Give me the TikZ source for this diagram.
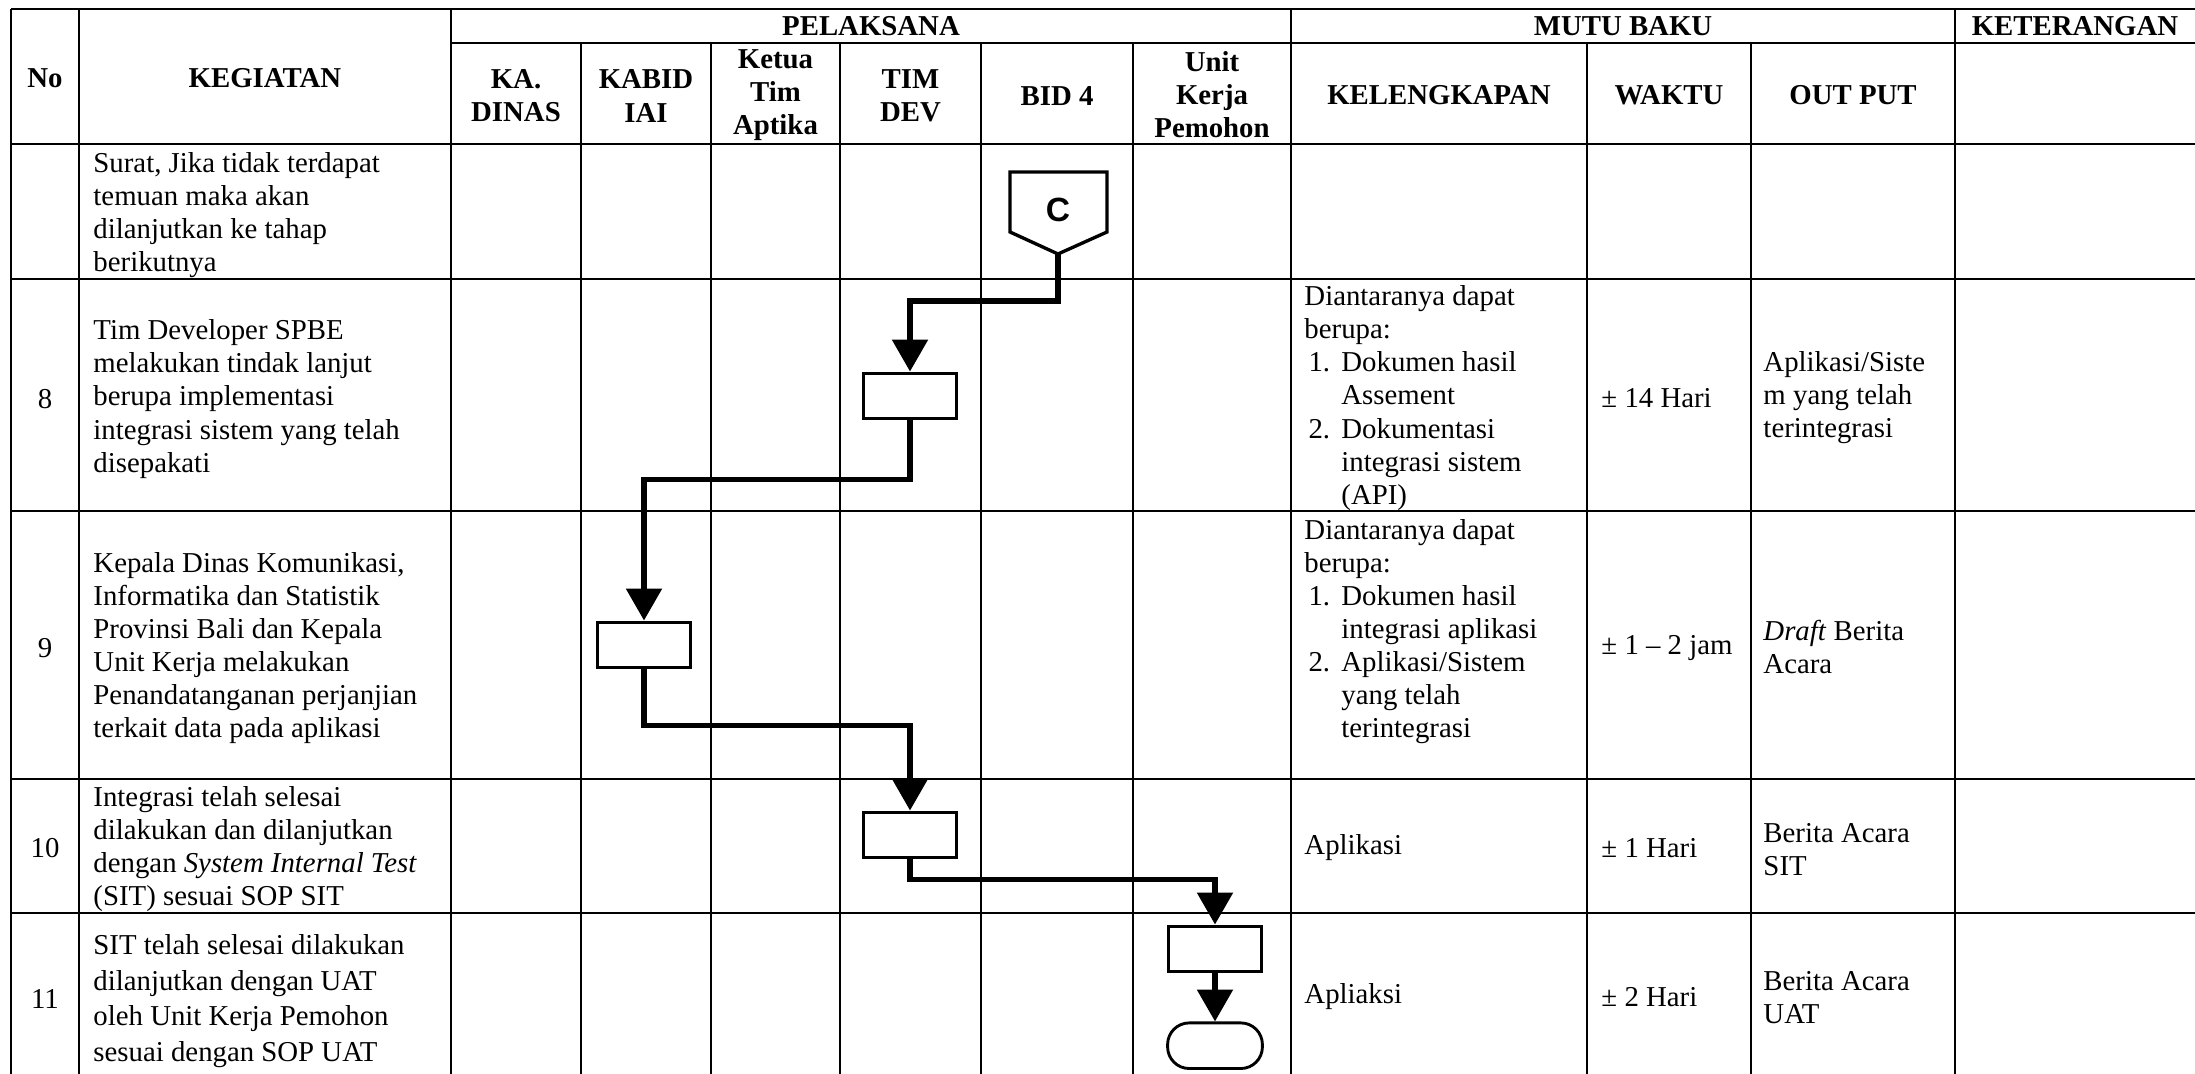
\documentclass[tikz,border=0pt]{standalone}
\usepackage{fontspec}
\setmainfont{Liberation Serif}
\setsansfont{Liberation Sans}
\usetikzlibrary{arrows.meta,positioning}

\tikzset{
  hdr/.style={font=\fontsize{12}{13.8}\selectfont\bfseries, align=center, inner sep=0},
  txt/.style={font=\fontsize{12}{13.8}\selectfont, align=left, anchor=west, inner sep=0},
  num/.style={font=\fontsize{12}{13.8}\selectfont, inner sep=0},
  grid/.style={line width=0.55pt},
  rowline/.style={line width=0.8pt},
  procbox/.style={draw, line width=1.4pt, minimum width=39pt, minimum height=19pt, inner sep=0},
  termbox/.style={draw, line width=1.2pt, rounded corners=9pt, minimum width=39.5pt, minimum height=19pt, inner sep=0},
  offpage/.style={line width=1.4pt, line join=miter},
  flow/.style={line width=2.2pt, -{Triangle[width=14.6pt,length=13.3pt]}},
}
\newcommand{\numitem}[1]{\makebox[15.4pt][l]{\hspace{1.7pt}#1}}
\newcommand{\numgap}{\hspace*{15.4pt}}

\begin{document}
\begin{tikzpicture}[x=0.41667pt, y=-0.41667pt]
  \useasboundingbox (0,0) rectangle (2195,1074);

  % table
  \foreach \x in {11,79,451,1291,1955} \draw[grid] (\x,9) -- (\x,1074);
  \foreach \x in {581,711,840,981,1133,1587,1751} \draw[grid] (\x,43) -- (\x,1074);
  \foreach \y in {9,144,279,511,779,913} \draw[rowline] (11,\y) -- (2195,\y);
  \draw[rowline] (451,43) -- (2195,43);

  % header
  \node[hdr] (hno) at (45,78) {No};
  \node[hdr] (hkeg) at (265,78) {KEGIATAN};
  \node[hdr] (hpel) at (871,26) {PELAKSANA};
  \node[hdr] (hmutu) at (1623,26) {MUTU BAKU};
  \node[hdr] (hket) at (2075,26) {KETERANGAN};
  \node[hdr] (hkadin) at (516,96) {KA.\\DINAS};
  \node[hdr] (hkabid) at (646,96) {KABID\\IAI};
  \node[hdr] (hketua) at (775.5,95) {Ketua\\Tim\\Aptika};
  \node[hdr] (htim) at (910.5,96) {TIM\\DEV};
  \node[hdr] (hbid) at (1057,96) {BID 4};
  \node[hdr] (hunit) at (1212,95) {Unit\\Kerja\\Pemohon};
  \node[hdr] (hkel) at (1439,95) {KELENGKAPAN};
  \node[hdr] (hwak) at (1669,95) {WAKTU};
  \node[hdr] (hout) at (1853,95) {OUT PUT};

  % row 7 (continued)
  \node[txt] (k7) at (93,215) {Surat, Jika tidak terdapat\\temuan maka akan\\dilanjutkan ke tahap\\berikutnya};

  % row 8
  \node[num] (n8) at (45,399) {8};
  \node[txt] (k8) at (93,399) {Tim Developer SPBE\\melakukan tindak lanjut\\berupa implementasi\\integrasi sistem yang telah\\disepakati};
  \node[txt] (l8) at (1304,398) {Diantaranya dapat\\berupa:\\\numitem{1.}Dokumen hasil\\\numgap Assement\\\numitem{2.}Dokumentasi\\\numgap integrasi sistem\\\numgap (API)};
  \node[txt] (w8) at (1601,398) {± 14 Hari};
  \node[txt] (o8) at (1763,398) {Aplikasi/Siste\\m yang telah\\terintegrasi};

  % row 9
  \node[num] (n9) at (45,648) {9};
  \node[txt] (k9) at (93,648) {Kepala Dinas Komunikasi,\\Informatika dan Statistik\\Provinsi Bali dan Kepala\\Unit Kerja melakukan\\Penandatanganan perjanjian\\terkait data pada aplikasi};
  \node[txt] (l9) at (1304,631.5) {Diantaranya dapat\\berupa:\\\numitem{1.}Dokumen hasil\\\numgap integrasi aplikasi\\\numitem{2.}Aplikasi/Sistem\\\numgap yang telah\\\numgap terintegrasi};
  \node[txt] (w9) at (1601,648) {± 1 – 2 jam};
  \node[txt] (o9) at (1763,647) {\textit{Draft} Berita\\Acara};

  % row 10
  \node[num] (n10) at (45,848) {10};
  \node[txt] (k10) at (93,849) {Integrasi telah selesai\\dilakukan dan dilanjutkan\\dengan \textit{System Internal Test}\\(SIT) sesuai SOP SIT};
  \node[txt] (l10) at (1304,848) {Aplikasi};
  \node[txt] (w10) at (1601,848) {± 1 Hari};
  \node[txt] (o10) at (1763,850) {Berita Acara\\SIT};

  % row 11
  \node[num] (n11) at (45,999) {11};
  \node[txt, font=\fontsize{12}{14.9}\selectfont] (k11) at (93,1001) {SIT telah selesai dilakukan\\dilanjutkan dengan UAT\\oleh Unit Kerja Pemohon\\sesuai dengan SOP UAT};
  \node[txt] (l11) at (1304,997) {Apliaksi};
  \node[txt] (w11) at (1601,997) {± 2 Hari};
  \node[txt] (o11) at (1763,998) {Berita Acara\\UAT};

  % flow
  \draw[offpage] (1010,172) -- (1107,172) -- (1107,232) -- (1058,254) -- (1010,232) -- cycle;
  \node[inner sep=0, font=\sffamily\bfseries\fontsize{14}{16}\selectfont] (offc) at (1058,210) {C};
  \coordinate (ctip) at (1058,254);
  \node[procbox] (b8) at (910,396) {};
  \node[procbox] (b9) at (644,645) {};
  \node[procbox] (b10) at (910,835) {};
  \node[procbox] (b11) at (1215,949) {};
  \node[termbox, below=20pt of b11] (term) {};

  \draw[flow] (ctip) -- ++(0,47) -| (b8.north);
  \draw[flow] (b8.south) -- ++(0,59) -| (b9.north);
  \draw[flow] (b9.south) -- ++(0,56) -| (b10.north);
  \draw[flow] (b10.south) -- ++(0,20) -| (b11.north);
  \draw[flow] (b11) -- (term);
\end{tikzpicture}
\end{document}
